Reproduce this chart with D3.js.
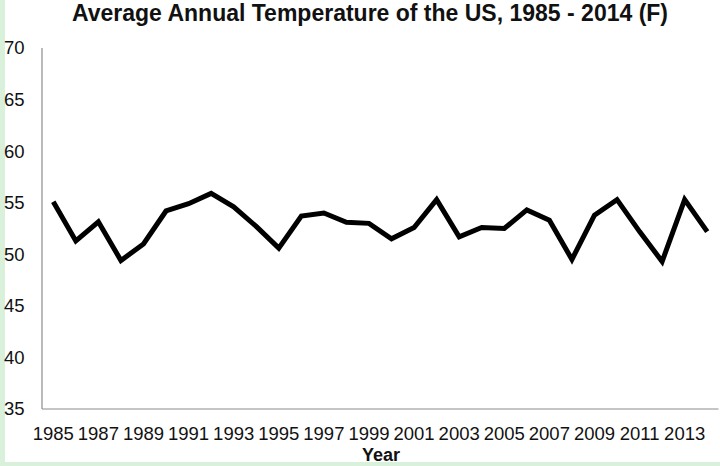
<!DOCTYPE html>
<html>
<head>
<meta charset="utf-8">
<title>Average Annual Temperature of the US</title>
<script src="https://d3js.org/d3.v7.min.js"></script>
<style>
body { margin: 0; background: #fff; }
svg text { font-family: "Liberation Sans", Arial, sans-serif; fill: #111; }
</style>
</head>
<body>
<script>

var years = d3.range(1985, 2015);
var temps = [55.1, 51.3, 53.15, 49.4, 51.0, 54.2, 54.9, 55.9, 54.6, 52.7,
             50.6, 53.7, 54.0, 53.1, 53.0, 51.5, 52.6, 55.3, 51.7, 52.6,
             52.5, 54.3, 53.3, 49.5, 53.8, 55.3, 52.2, 49.3, 55.3, 52.2];
var yTicks = [35, 40, 45, 50, 55, 60, 65, 70];
var xLabels = years.filter(function(d){ return (d - 1985) % 2 == 0; });

var width = 720;
var height = 466;

var svg = d3.select("body")
            .append("svg")
            .attr("width", width)
            .attr("height", height);

// page frame (light green edges)
svg.append("rect").attr("x", 0).attr("y", 0).attr("width", width).attr("height", height).attr("fill", "#d9f0da");
svg.append("rect").attr("x", 5).attr("y", 0).attr("width", width - 5).attr("height", 462).attr("fill", "#ffffff");

var plotLeft = 42, plotRight = 718.5, plotTop = 48, plotBottom = 409;

var x = d3.scaleBand()
          .domain(years)
          .range([plotLeft, plotRight]);

var y = d3.scaleLinear()
          .domain([35, 70])
          .range([plotBottom, plotTop]);

// axes lines
svg.append("line")
   .attr("x1", plotLeft).attr("x2", plotLeft)
   .attr("y1", plotTop).attr("y2", plotBottom)
   .attr("stroke", "#8c8c8c").attr("stroke-width", 1.2);

svg.append("line")
   .attr("x1", plotLeft).attr("x2", plotRight)
   .attr("y1", plotBottom).attr("y2", plotBottom)
   .attr("stroke", "#8c8c8c").attr("stroke-width", 1.2);

// y tick labels
svg.selectAll(".ylab")
   .data(yTicks)
   .enter()
   .append("text")
   .attr("class", "ylab")
   .attr("x", 4)
   .attr("y", function(d){ return y(d); })
   .attr("dy", "0.35em")
   .attr("font-size", "18.5px")
   .text(function(d){ return d; });

// x tick labels
svg.selectAll(".xlab")
   .data(xLabels)
   .enter()
   .append("text")
   .attr("class", "xlab")
   .attr("x", function(d){ return x(d) + x.bandwidth() / 2; })
   .attr("y", 440)
   .attr("text-anchor", "middle")
   .attr("font-size", "18.5px")
   .text(function(d){ return d; });

// line
var line = d3.line()
             .x(function(d, i){ return x(years[i]) + x.bandwidth() / 2; })
             .y(function(d){ return y(d); });

svg.append("path")
   .datum(temps)
   .attr("d", line)
   .attr("fill", "none")
   .attr("stroke", "#000")
   .attr("stroke-width", 5)
   .attr("stroke-linejoin", "miter");

// title
svg.append("text")
   .attr("x", 370)
   .attr("y", 21)
   .attr("text-anchor", "middle")
   .attr("font-size", "23px")
   .attr("font-weight", "bold")
   .text("Average Annual Temperature of the US, 1985 - 2014 (F)");

// axis title
svg.append("text")
   .attr("x", 381)
   .attr("y", 461)
   .attr("text-anchor", "middle")
   .attr("font-size", "18px")
   .attr("font-weight", "bold")
   .text("Year");

</script>
</body>
</html>
